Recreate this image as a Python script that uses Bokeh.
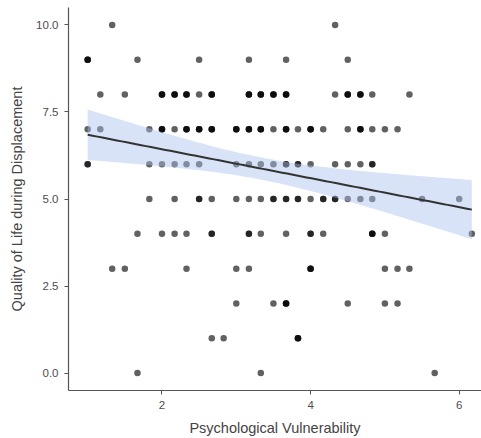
import numpy as np
from bokeh.plotting import figure
from bokeh.models import Range1d, FixedTicker, CustomJSTickFormatter
from bokeh.embed import file_html
from bokeh.resources import INLINE

# Quality of life value -> list of psychological vulnerability scores (repeats = overlapping points)
row_10 = [1.33, 4.33]
row_9 = [1.00, 1.00, 1.00, 1.67, 2.50, 3.17, 3.67, 4.50]
row_8 = [1.17, 1.50, 2.00, 2.00, 2.00, 2.17, 2.17, 2.17, 2.33, 2.33, 2.33, 2.50,
         2.67, 2.67, 2.67, 3.17, 3.17, 3.17, 3.33, 3.33, 3.33, 3.50, 3.50, 3.50,
         3.67, 3.67, 3.67, 4.33, 4.50, 4.50, 4.50, 4.67, 4.67, 4.67, 4.83, 5.33]
row_7 = [1.00, 1.17, 1.83, 2.00, 2.00, 2.00, 2.17, 2.33, 2.33, 2.33, 2.50, 2.50, 2.50,
         2.67, 2.67, 2.67, 3.00, 3.00, 3.00, 3.17, 3.17, 3.17, 3.33, 3.33, 3.33, 3.50,
         3.67, 3.67, 3.67, 3.83, 4.00, 4.00, 4.00, 4.17, 4.50, 4.67, 4.67, 4.67,
         4.83, 5.00, 5.17]
row_6 = [1.00, 1.00, 1.83, 2.00, 2.17, 2.33, 2.50, 3.00, 3.17, 3.33, 3.50, 3.67, 3.67,
         3.83, 3.83, 4.00, 4.33, 4.50, 4.67, 4.83, 4.83]
row_5 = [1.83, 2.17, 2.50, 2.50, 2.67, 3.00, 3.17, 3.33, 3.50, 3.50, 3.67, 3.67, 3.83, 3.83,
         4.00, 4.17, 4.17, 4.33, 4.33, 4.50, 4.67, 4.83, 5.50, 6.00]
row_4 = [1.67, 2.00, 2.17, 2.33, 2.67, 2.67, 3.17, 3.17, 3.33, 3.67, 4.00, 4.00, 4.17,
         4.83, 4.83, 4.83, 5.00, 6.17]
row_3 = [1.33, 1.50, 2.33, 3.00, 3.17, 4.00, 4.00, 4.00, 5.00, 5.17, 5.33]
row_2 = [3.00, 3.50, 3.67, 3.67, 3.67, 4.50, 5.00, 5.17]
row_1 = [2.67, 2.83, 3.83, 3.83, 3.83]
row_0 = [1.67, 3.33, 5.67]

rows = {10: row_10, 9: row_9, 8: row_8, 7: row_7, 6: row_6, 5: row_5,
        4: row_4, 3: row_3, 2: row_2, 1: row_1, 0: row_0}

psych_vulnerability = []
quality_of_life = []
for q, xs in rows.items():
    for x in xs:
        psych_vulnerability.append(x)
        quality_of_life.append(q)

x_ticks = [2, 4, 6]
y_ticks = [0, 2.5, 5, 7.5, 10]

x = np.array(psych_vulnerability, dtype=float)
y = np.array(quality_of_life, dtype=float)

# linear fit with 95% confidence band (like geom_smooth(method="lm"))
n = len(x)
b1, b0 = np.polyfit(x, y, 1)
resid = y - (b0 + b1 * x)
s = np.sqrt(np.sum(resid ** 2) / (n - 2))
xbar = x.mean()
sxx = np.sum((x - xbar) ** 2)
xs_grid = np.linspace(x.min(), x.max(), 80)
yhat = b0 + b1 * xs_grid
tval = 1.974
se = s * np.sqrt(1.0 / n + (xs_grid - xbar) ** 2 / sxx)
lower = yhat - tval * se
upper = yhat + tval * se

FONT = "Liberation Sans"

p = figure(width=481, height=438, output_backend="svg", toolbar_location=None,
           x_range=Range1d(0.742, 6.30), y_range=Range1d(-0.5, 10.5),
           min_border_left=68, min_border_right=0, min_border_top=7, min_border_bottom=46)
p.background_fill_color = "white"
p.border_fill_color = "white"
p.outline_line_color = None
p.xgrid.visible = False
p.ygrid.visible = False

p.scatter(x, y, size=6.5, fill_color="black", fill_alpha=0.62, line_color=None)
p.varea(x=xs_grid, y1=lower, y2=upper, fill_color="#a9c1ef", fill_alpha=0.45)
p.line(xs_grid, yhat, line_color="#333333", line_width=2)

for ax in (p.xaxis[0], p.yaxis[0]):
    ax.axis_line_color = "#555555"
    ax.axis_line_width = 1.2
    ax.major_tick_line_color = "#555555"
    ax.major_tick_in = 0
    ax.major_tick_out = 4
    ax.minor_tick_line_color = None
    ax.major_label_text_font = FONT
    ax.major_label_text_font_size = "11.5px"
    ax.major_label_text_color = "#4d4d4d"
    ax.axis_label_text_font = FONT
    ax.axis_label_text_font_size = "14.5px"
    ax.axis_label_text_font_style = "normal"
    ax.axis_label_text_color = "#444444"

p.xaxis.ticker = FixedTicker(ticks=x_ticks)
p.yaxis.ticker = FixedTicker(ticks=y_ticks)
p.yaxis.formatter = CustomJSTickFormatter(code="return tick.toFixed(1);")
p.xaxis.axis_label = "Psychological Vulnerability"
p.yaxis.axis_label = "Quality of Life during Displacement"
p.xaxis.major_label_standoff = 6
p.yaxis.major_label_standoff = 6
p.xaxis.axis_label_standoff = 8
p.yaxis.axis_label_standoff = 8

open("out.html", "w").write(file_html(p, INLINE))
